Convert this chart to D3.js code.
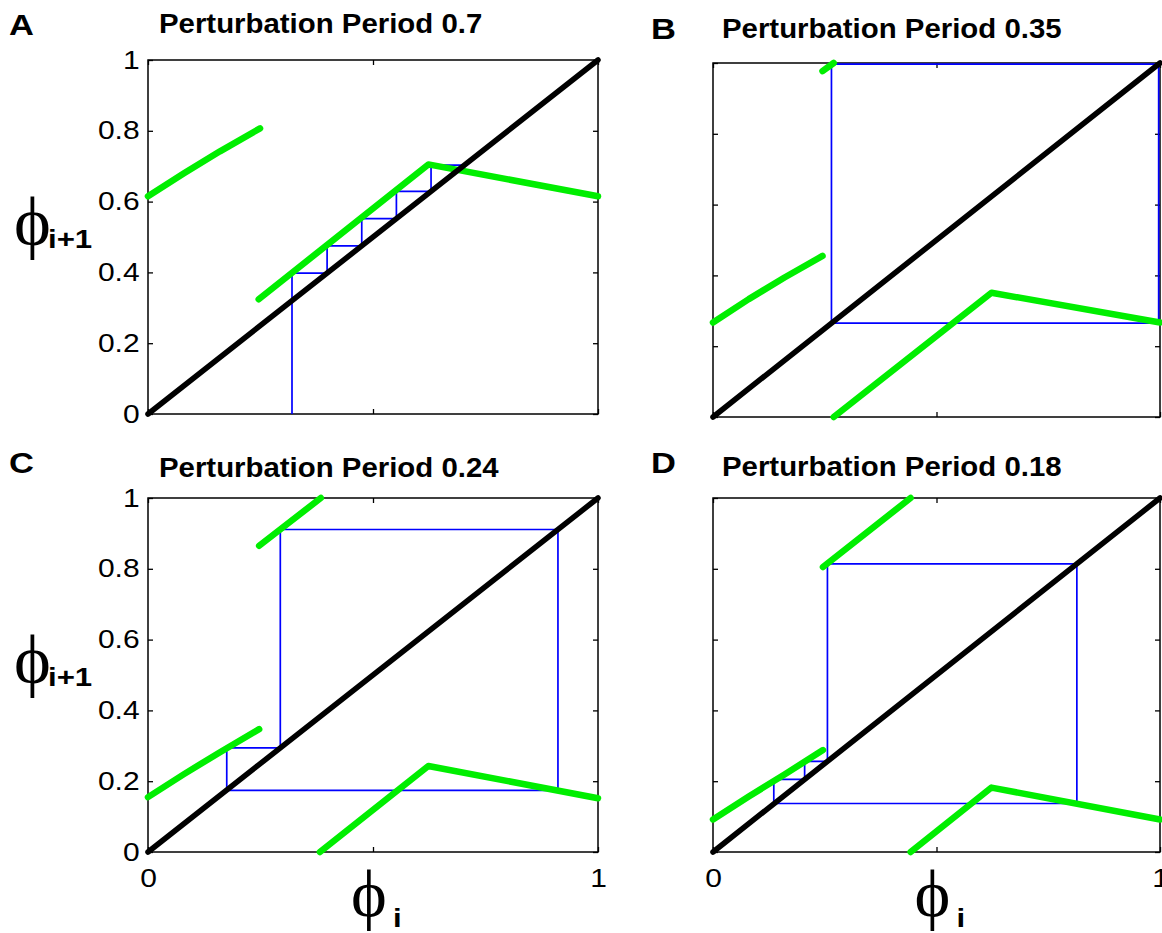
<!DOCTYPE html>
<html>
<head>
<meta charset="utf-8">
<script src="https://cdn.jsdelivr.net/npm/d3@7"></script>
<style>
  body { margin: 0; background: #fff; }
  svg { display: block; }
</style>
</head>
<body>
<svg id="fig" width="1162" height="933"></svg>
<script>
// ---- data -------------------------------------------------------------
const panelLetters = ["A", "B", "C", "D"];
const periods = ["0.7", "0.35", "0.24", "0.18"];
const yTicks = [0, 0.2, 0.4, 0.6, 0.8, 1];
const yTickLabels = ["0", "0.2", "0.4", "0.6", "0.8", "1"];
const xTicks = [0, 0.5, 1];
const xTickLabels = ["0", "", "1"];

// branches of the phase return map, each a list of [phi_i, phi_i+1]
const mapA = [
  [[0, 0.615], [0.08, 0.680], [0.16, 0.742], [0.249, 0.807]],
  [[0.246, 0.324], [0.623, 0.705], [1, 0.615]]
];
const mapB = [
  [[0, 0.267], [0.08, 0.333], [0.16, 0.394], [0.245, 0.455]],
  [[0.245, 0.977], [0.270, 1.0]],
  [[0.270, 0], [0.623, 0.351], [1, 0.267]]
];
const mapC = [
  [[0, 0.155], [0.08, 0.220], [0.16, 0.282], [0.247, 0.347]],
  [[0.247, 0.865], [0.384, 1.0]],
  [[0.382, 0], [0.623, 0.243], [1, 0.152]]
];
const mapD = [
  [[0, 0.092], [0.08, 0.157], [0.16, 0.219], [0.246, 0.288]],
  [[0.246, 0.805], [0.442, 1.0]],
  [[0.442, 0], [0.623, 0.182], [1, 0.092]]
];

// successive phases phi_0, phi_1, ... traced by the cobweb
const iterA = [0.32, 0.398, 0.475, 0.552, 0.629, 0.703, 0.684, 0.690, 0.688];
const iterB = [0.265, 0.997, 0.265];
const iterC = [0.175, 0.294, 0.911, 0.174];
const iterD = [0.136, 0.205, 0.256, 0.814, 0.137];
// A's cobweb rises from the horizontal axis; the others start on the diagonal
const cobwebFromAxis = [true, false, false, false];

// ---- layout -----------------------------------------------------------
const maps = [mapA, mapB, mapC, mapD];
const iters = [iterA, iterB, iterC, iterD];
const boxes = [
  { left: 148, top: 60,  w: 450, h: 354, titleY: 33,  letterY: 35 },
  { left: 713, top: 63,  w: 447, h: 354, titleY: 38,  letterY: 39 },
  { left: 148, top: 498, w: 450, h: 354, titleY: 477, letterY: 473 },
  { left: 713, top: 498, w: 447, h: 354, titleY: 476, letterY: 473 }
];
const letterX = [9, 651, 9, 651];
const titleX = [159, 722, 159, 722];

const svg = d3.select("#fig");
const sans = "'Liberation Sans', Arial, Helvetica, sans-serif";
const serif = "'Liberation Serif', 'Times New Roman', serif";

// text whose baseline starts at (x, y), widened horizontally by sx
function wideText(x, y, sx) {
  return svg.append("text").attr("transform", `translate(${x},${y}) scale(${sx},1)`);
}

boxes.forEach((b, i) => {
  const x = d3.scaleLinear().domain([0, 1]).range([b.left, b.left + b.w]);
  const y = d3.scaleLinear().domain([0, 1]).range([b.top + b.h, b.top]);
  const g = svg.append("g");
  const leftCol = i % 2 === 0;
  const bottomRow = i >= 2;

  // frame
  g.append("rect")
    .attr("x", x(0)).attr("y", y(1))
    .attr("width", x(1) - x(0)).attr("height", y(0) - y(1))
    .attr("fill", "none").attr("stroke", "#000").attr("stroke-width", 1.5);

  // ticks pointing inward on all four sides
  const styleAxis = sel => {
    sel.select(".domain").remove();
    sel.selectAll(".tick line").attr("stroke", "#000").attr("stroke-width", 1.3);
    sel.selectAll(".tick text")
      .attr("font-family", sans).attr("font-size", 25).attr("fill", "#000")
      .attr("transform", "scale(1.2,1)");
  };
  g.append("g").attr("transform", `translate(${x(0)},0)`)
    .call(d3.axisLeft(y).tickValues(yTicks).tickSize(-5).tickPadding(7)
      .tickFormat((d, k) => leftCol ? yTickLabels[k] : ""))
    .call(styleAxis);
  g.append("g").attr("transform", `translate(${x(1)},0)`)
    .call(d3.axisRight(y).tickValues(yTicks).tickSize(-5).tickFormat(""))
    .call(styleAxis);
  g.append("g").attr("transform", `translate(0,${y(0)})`)
    .call(d3.axisBottom(x).tickValues(xTicks).tickSize(-5).tickPadding(17)
      .tickFormat((d, k) => bottomRow ? xTickLabels[k] : ""))
    .call(styleAxis);
  g.append("g").attr("transform", `translate(0,${y(1)})`)
    .call(d3.axisTop(x).tickValues(xTicks).tickSize(-5).tickFormat(""))
    .call(styleAxis);

  const line = d3.line().x(d => x(d[0])).y(d => y(d[1]));

  // cobweb
  const it = iters[i];
  const pts = [[it[0], cobwebFromAxis[i] ? 0 : it[0]]];
  for (let k = 1; k < it.length; k++) {
    pts.push([it[k - 1], it[k]]);
    pts.push([it[k], it[k]]);
  }
  g.append("path").attr("d", line(pts))
    .attr("fill", "none").attr("stroke", "#0000ff").attr("stroke-width", 1.7)
    .attr("stroke-linejoin", "miter");

  // return map branches
  maps[i].forEach(seg => {
    g.append("path").attr("d", line(seg))
      .attr("fill", "none").attr("stroke", "#00ee00").attr("stroke-width", 6.5)
      .attr("stroke-linecap", "round").attr("stroke-linejoin", "round");
  });

  // identity line
  g.append("path").attr("d", line([[0, 0], [1, 1]]))
    .attr("fill", "none").attr("stroke", "#000").attr("stroke-width", 5.5)
    .attr("stroke-linecap", "round");

  // panel letter and title
  wideText(letterX[i], b.letterY, 1.15)
    .attr("font-family", sans).attr("font-weight", "bold").attr("font-size", 30)
    .text(panelLetters[i]);
  wideText(titleX[i], b.titleY, 1.05)
    .attr("font-family", sans).attr("font-weight", "bold").attr("font-size", 28)
    .text("Perturbation Period " + periods[i]);

  // axis labels
  if (leftCol) {
    const yb = b.top + 185;
    svg.append("text").attr("x", 14).attr("y", yb)
      .attr("font-family", serif).attr("font-size", 70).text("\u03D5");
    wideText(48, yb + 3, 1.2)
      .attr("font-family", sans).attr("font-weight", "bold").attr("font-size", 26)
      .text("i+1");
  }
  if (bottomRow) {
    const cx = (x(0) + x(1)) / 2;
    svg.append("text").attr("x", cx - 22).attr("y", 917)
      .attr("font-family", serif).attr("font-size", 68).text("\u03D5");
    wideText(cx + 20, 927, 1.2)
      .attr("font-family", sans).attr("font-weight", "bold").attr("font-size", 26)
      .text("i");
  }
});
</script>
</body>
</html>
